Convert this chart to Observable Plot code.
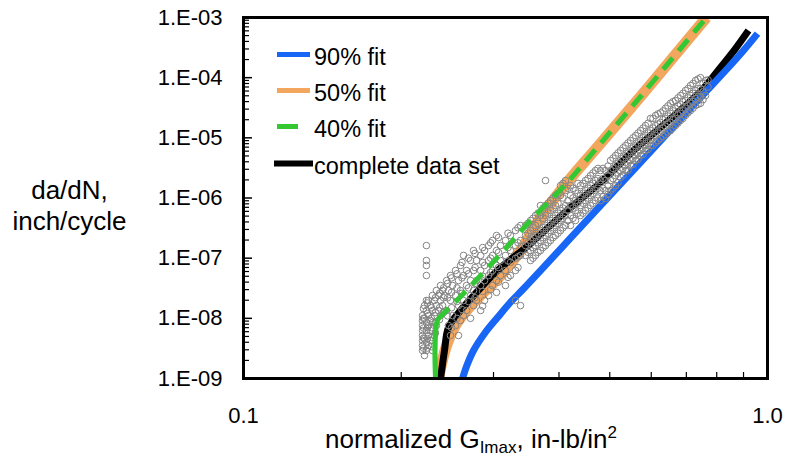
<!DOCTYPE html>
<html><head><meta charset="utf-8">
<script src="https://cdn.jsdelivr.net/npm/d3@7"></script>
<script src="https://cdn.jsdelivr.net/npm/@observablehq/plot@0.6"></script>
<style>
html,body{margin:0;padding:0;background:#fff;}
</style></head>
<body><div id="chart"></div>
<script>
// ---- axis ticks ----
const yMajor = [1e-9, 1e-8, 1e-7, 1e-6, 1e-5, 1e-4, 1e-3];
const yTickLabels = ["1.E-09", "1.E-08", "1.E-07", "1.E-06", "1.E-05", "1.E-04", "1.E-03"];
const xMajor = [0.1, 1];
const xTickLabels = ["0.1", "1.0"];
const xMinor = [0.2, 0.3, 0.4, 0.5, 0.6, 0.7, 0.8, 0.9];
const yMinor = yMajor.slice(0, -1).flatMap(d => [2, 3, 4, 5, 6, 7, 8, 9].map(k => k * d));

// ---- fit curves (normalized G, da/dN) ----
const fit90G    = [0.2618, 0.2665, 0.2748, 0.2884, 0.3053, 0.3232, 0.3423, 0.3688, 0.4160, 0.4800, 0.5615, 0.6465, 0.7450, 0.8387, 0.8999, 0.9570];
const fit90Rate = [1.0e-9, 1.6e-9, 2.92e-9, 5.6e-9, 1.03e-8, 1.85e-8, 3.1e-8, 6.2e-8, 1.94e-7, 7.45e-7, 3.27e-6, 1.23e-5, 4.68e-5, 1.42e-4, 2.83e-4, 5.4e-4];

const fit50G    = [0.2355, 0.2441, 0.2550, 0.2772, 0.3094, 0.3378, 0.3688, 0.4116, 0.4800, 0.5724, 0.6823, 0.7648];
const fit50Rate = [1.0e-9, 3.54e-9, 8.2e-9, 1.98e-8, 5.15e-8, 1.34e-7, 4.74e-7, 1.68e-6, 8.05e-6, 4.86e-5, 3.05e-4, 1.0e-3];

const fit40G    = [0.2325, 0.2345, 0.2408, 0.2630, 0.3053, 0.3530, 0.4116, 0.4800, 0.5724, 0.6823, 0.7648];
const fit40Rate = [1.0e-9, 9.2e-9, 1.20e-8, 2.59e-8, 1.03e-7, 4.23e-7, 1.68e-6, 8.05e-6, 4.86e-5, 3.05e-4, 1.0e-3];

const fitAllG    = [0.2377, 0.2419, 0.2461, 0.2595, 0.2772, 0.3053, 0.3530, 0.4080, 0.4800, 0.5550, 0.6444, 0.7450, 0.8135, 0.8688, 0.9198];
const fitAllRate = [1.0e-9, 2.92e-9, 7.04e-9, 1.35e-8, 2.59e-8, 6.24e-8, 1.75e-7, 5.52e-7, 1.81e-6, 6.15e-6, 1.87e-5, 5.89e-5, 1.48e-4, 3.05e-4, 6.08e-4];

// ---- measured data (normalized G, da/dN) ----
const testPoints = [
 [0.2234,1.62e-7],[0.2234,9.15e-8],[0.2234,7.55e-8],[0.2234,5.15e-8],[0.2234,1.98e-8],
 [0.2196,1.11e-8],[0.2196,9.2e-9],[0.2196,7.6e-9],[0.2196,6.28e-9],[0.2196,5.18e-9],[0.2196,4.28e-9],[0.2196,3.54e-9],[0.2196,2.92e-9],
 [0.2215,1.63e-8],[0.2215,1.0e-8],[0.2215,4.6e-9],[0.2215,2.41e-9],
 [0.2234,1.35e-8],[0.2234,8.5e-9],[0.2234,6.28e-9],[0.2234,4.0e-9],[0.2234,2.92e-9],
 [0.2254,1.98e-8],[0.2254,1.11e-8],[0.2254,7.6e-9],[0.2254,5.18e-9],[0.2254,3.54e-9],
 [0.2273,1.63e-8],[0.2273,9.2e-9],[0.2273,6.28e-9],[0.2273,4.28e-9],
 [0.2294,2.4e-8],[0.2294,1.35e-8],[0.2294,8.5e-9],[0.2294,2.92e-9],
 [0.2314,1.98e-8],[0.2314,1.11e-8],[0.2314,5.18e-9],
 [0.2334,2.9e-8],[0.2334,1.63e-8],[0.2334,7.6e-9],
 [0.2355,2.4e-8],[0.2355,1.35e-8],
 [0.2377,3.51e-8],[0.2377,1.98e-8],[0.2377,1.11e-8],
 [0.2398,2.9e-8],[0.2398,1.63e-8],
 [0.2419,2.4e-8],[0.2441,4.25e-8],[0.2441,1.35e-8],[0.2461,2.9e-8],[0.2461,7.6e-9],
 [0.2483,5.15e-8],[0.2483,1.98e-8],[0.2483,5.18e-9],[0.2506,3.51e-8],[0.2506,1.11e-8],
 [0.2539,6.24e-8],[0.2539,2.4e-8],[0.2539,7.6e-9],[0.2572,4.25e-8],[0.2572,1.63e-8],[0.2572,5.18e-9],
 [0.2595,7.55e-8],[0.2595,2.9e-8],[0.2595,9.2e-9],
 [0.2630,1.11e-7],[0.2630,5.15e-8],[0.2630,1.98e-8],[0.2630,1.11e-8],
 [0.2665,6.24e-8],[0.2665,3.51e-8],[0.2665,1.35e-8],
 [0.2712,9.15e-8],[0.2712,4.25e-8],[0.2712,2.4e-8],[0.2712,1.0e-8],
 [0.2748,1.34e-7],[0.2748,6.24e-8],[0.2748,2.9e-8],[0.2748,1.63e-8],
 [0.2784,9.15e-8],[0.2784,4.25e-8],[0.2784,1.98e-8],
 [0.2835,1.11e-7],[0.2835,6.24e-8],[0.2835,3.51e-8],[0.2835,1.35e-8],
 [0.2884,1.34e-7],[0.2884,7.55e-8],[0.2884,4.25e-8],[0.2884,1.98e-8],
 [0.2936,1.62e-7],[0.2936,9.15e-8],[0.2936,5.15e-8],[0.2936,2.4e-8],
 [0.2987,1.97e-7],[0.2987,1.11e-7],[0.2987,6.24e-8],[0.2987,3.51e-8],
 [0.3040,2.38e-7],[0.3040,1.34e-7],[0.3040,7.55e-8],[0.3040,4.25e-8],[0.3040,2.7e-8],
 [0.3094,1.62e-7],[0.3094,9.15e-8],[0.3094,5.15e-8],
 [0.3162,1.97e-7],[0.3162,1.11e-7],[0.3162,6.24e-8],[0.3162,3.51e-8],
 [0.3232,2.38e-7],[0.3232,1.34e-7],[0.3232,8.5e-8],[0.3232,5.15e-8],
 [0.3304,2.88e-7],[0.3304,1.62e-7],[0.3304,9.9e-8],[0.3304,6.24e-8],[0.3304,1.98e-8],
 [0.3378,3.49e-7],[0.3378,1.97e-7],[0.3378,1.11e-7],[0.3378,1.63e-8],
 [0.3453,3.49e-7],[0.3453,2.38e-7],[0.3453,1.62e-7],[0.3453,1.11e-7],
 [0.3530,4.23e-7],[0.3530,2.88e-7],[0.3530,1.97e-7],[0.3530,1.34e-7],[0.3530,9.15e-8],
 [0.3608,5.12e-7],[0.3608,3.49e-7],[0.3608,2.38e-7],[0.3608,1.62e-7],[0.3608,1.11e-7],
 [0.3688,7.5e-7],[0.3688,5.12e-7],[0.3688,2.88e-7],[0.3688,1.97e-7],[0.3688,1.34e-7],
 [0.3770,1.95e-6],[0.3770,7.5e-7],[0.3770,5.12e-7],[0.3770,3.49e-7],[0.3770,2.38e-7],[0.3770,1.62e-7],
 [0.3854,9.08e-7],[0.3854,6.2e-7],[0.3854,4.23e-7],[0.3854,2.88e-7],[0.3854,1.97e-7],
 [0.3939,1.1e-6],[0.3939,7.5e-7],[0.3939,5.12e-7],[0.3939,3.49e-7],[0.3939,2.38e-7],
 [0.4027,1.61e-6],[0.4027,1.1e-6],[0.4027,6.2e-7],[0.4027,4.23e-7],[0.4027,2.88e-7],
 [0.4116,1.95e-6],[0.4116,1.33e-6],[0.4116,7.5e-7],[0.4116,5.12e-7],[0.4116,3.49e-7],
 [0.4207,1.61e-6],[0.4207,1.1e-6],[0.4207,7.5e-7],[0.4207,5.12e-7],[0.4207,3.49e-7],
 [0.4301,1.33e-6],[0.4301,9.08e-7],[0.4301,6.2e-7],[0.4301,4.23e-7],
 [0.4396,1.61e-6],[0.4396,1.1e-6],[0.4396,7.5e-7],[0.4396,5.12e-7],
 [0.4494,1.95e-6],[0.4494,1.33e-6],[0.4494,9.08e-7],[0.4494,6.2e-7],
 [0.4595,2.36e-6],[0.4595,1.61e-6],[0.4595,1.1e-6],[0.4595,7.5e-7],
 [0.4695,2.86e-6],[0.4695,1.95e-6],[0.4695,1.33e-6],[0.4695,9.08e-7],
 [0.4800,2.86e-6],[0.4800,1.95e-6],[0.4800,1.33e-6],[0.4800,9.08e-7],
 [0.4906,2.86e-6],[0.4906,1.95e-6],[0.4906,1.33e-6],[0.4906,9.8e-7],
 [0.5017,4.2e-6],[0.5017,2.86e-6],[0.5017,1.95e-6],[0.5017,1.33e-6],
 [0.5128,5.08e-6],[0.5128,3.47e-6],[0.5128,2.36e-6],[0.5128,1.61e-6],
 [0.5243,6.15e-6],[0.5243,4.2e-6],[0.5243,2.86e-6],[0.5243,2.2e-6],
 [0.5358,7.45e-6],[0.5358,5.08e-6],[0.5358,3.47e-6],[0.5358,2.86e-6],
 [0.5477,9.02e-6],[0.5477,6.15e-6],[0.5477,4.2e-6],[0.5477,3.47e-6],
 [0.5600,1.09e-5],[0.5600,7.45e-6],[0.5600,5.08e-6],[0.5600,4.2e-6],
 [0.5724,1.32e-5],[0.5724,9.02e-6],[0.5724,6.15e-6],[0.5724,5.08e-6],
 [0.5850,1.6e-5],[0.5850,1.09e-5],[0.5850,7.45e-6],[0.5850,6.15e-6],
 [0.5980,2.1e-5],[0.5980,1.32e-5],[0.5980,9.02e-6],[0.5980,7.45e-6],
 [0.6114,2.35e-5],[0.6114,1.6e-5],[0.6114,1.09e-5],[0.6114,8.3e-6],
 [0.6249,2.6e-5],[0.6249,1.8e-5],[0.6249,1.32e-5],[0.6249,9.8e-6],
 [0.6387,3.1e-5],[0.6387,2.1e-5],[0.6387,1.55e-5],[0.6387,1.13e-5],
 [0.6530,3.75e-5],[0.6530,2.55e-5],[0.6530,1.8e-5],[0.6530,1.32e-5],
 [0.6674,4.17e-5],[0.6674,3.1e-5],[0.6674,2.1e-5],[0.6674,1.6e-5],
 [0.6823,5.05e-5],[0.6823,3.6e-5],[0.6823,2.55e-5],[0.6823,1.94e-5],
 [0.6974,6.11e-5],[0.6974,4.17e-5],[0.6974,3.1e-5],[0.6974,2.35e-5],
 [0.7130,7.41e-5],[0.7130,5.05e-5],[0.7130,3.75e-5],[0.7130,2.84e-5],
 [0.7288,8.97e-5],[0.7288,6.11e-5],[0.7288,4.5e-5],[0.7288,3.44e-5],
 [0.7450,1.0e-4],[0.7450,6.6e-5],[0.7450,4.85e-5],[0.7450,3.75e-5],
 [0.7616,8.97e-5],[0.7616,5.05e-5],
 // second pass, read between the first-pass rows
 [0.2205,1.0e-8],[0.2205,6.9e-9],[0.2205,4.7e-9],[0.2205,3.2e-9],[0.2205,1.45e-8],
 [0.2244,1.2e-8],[0.2244,7.0e-9],[0.2244,4.6e-9],[0.2244,3.2e-9],[0.2244,1.8e-8],
 [0.2283,1.5e-8],[0.2283,1.0e-8],[0.2283,7.0e-9],[0.2283,4.8e-9],[0.2283,3.4e-9],
 [0.2324,2.2e-8],[0.2324,1.25e-8],[0.2324,8.5e-9],[0.2324,5.7e-9],
 [0.2366,2.6e-8],[0.2366,1.5e-8],[0.2366,9.5e-9],
 [0.2409,3.2e-8],[0.2409,2.2e-8],[0.2409,1.25e-8],
 [0.2452,3.8e-8],[0.2452,2.2e-8],[0.2452,1.1e-8],
 [0.2495,4.7e-8],[0.2495,2.7e-8],[0.2495,1.5e-8],[0.2495,7.0e-9],
 [0.2555,5.5e-8],[0.2555,3.2e-8],[0.2555,1.9e-8],[0.2555,1.0e-8],
 [0.2612,8.5e-8],[0.2612,4.7e-8],[0.2612,2.6e-8],[0.2612,1.4e-8],
 [0.2688,1.0e-7],[0.2688,5.5e-8],[0.2688,3.2e-8],[0.2688,1.9e-8],
 [0.2766,1.2e-7],[0.2766,7.0e-8],[0.2766,3.8e-8],[0.2766,2.2e-8],
 [0.2860,1.5e-7],[0.2860,8.5e-8],[0.2860,5.0e-8],[0.2860,2.8e-8],[0.2860,1.6e-8],
 [0.2962,1.8e-7],[0.2962,1.0e-7],[0.2962,5.8e-8],[0.2962,3.0e-8],
 [0.3067,2.2e-7],[0.3067,1.25e-7],[0.3067,7.0e-8],[0.3067,4.0e-8],
 [0.3197,2.6e-7],[0.3197,1.5e-7],[0.3197,9.0e-8],[0.3197,4.8e-8],
 [0.3341,3.2e-7],[0.3341,1.8e-7],[0.3341,1.05e-7],[0.3341,7.0e-8],
 [0.3491,3.8e-7],[0.3491,2.6e-7],[0.3491,1.8e-7],[0.3491,1.25e-7],
 [0.3569,4.6e-7],[0.3569,3.2e-7],[0.3569,2.2e-7],[0.3569,1.5e-7],[0.3569,1.0e-7],
 [0.3648,5.6e-7],[0.3648,3.8e-7],[0.3648,2.6e-7],[0.3648,1.8e-7],[0.3648,1.25e-7],
 [0.3729,6.8e-7],[0.3729,4.6e-7],[0.3729,3.2e-7],[0.3729,2.2e-7],[0.3729,1.5e-7],
 [0.3812,8.2e-7],[0.3812,5.6e-7],[0.3812,3.8e-7],[0.3812,2.6e-7],[0.3812,1.8e-7],
 [0.3897,1.0e-6],[0.3897,6.8e-7],[0.3897,4.6e-7],[0.3897,3.2e-7],[0.3897,2.2e-7],
 [0.3983,1.2e-6],[0.3983,8.2e-7],[0.3983,5.6e-7],[0.3983,3.8e-7],[0.3983,2.6e-7],
 [0.4071,1.75e-6],[0.4071,1.0e-6],[0.4071,6.8e-7],[0.4071,4.6e-7],[0.4071,3.2e-7],
 [0.4161,1.45e-6],[0.4161,9.0e-7],[0.4161,6.2e-7],[0.4161,4.2e-7],
 [0.4254,1.45e-6],[0.4254,1.0e-6],[0.4254,6.8e-7],[0.4254,4.6e-7],
 [0.4348,1.75e-6],[0.4348,1.2e-6],[0.4348,8.2e-7],[0.4348,5.6e-7],
 [0.4445,1.75e-6],[0.4445,1.2e-6],[0.4445,8.2e-7],[0.4445,5.6e-7],
 [0.4544,2.1e-6],[0.4544,1.45e-6],[0.4544,1.0e-6],[0.4544,6.8e-7],
 [0.4645,2.6e-6],[0.4645,1.75e-6],[0.4645,1.2e-6],[0.4645,8.2e-7],
 [0.4747,3.1e-6],[0.4747,2.1e-6],[0.4747,1.45e-6],[0.4747,1.0e-6],
 [0.4853,3.1e-6],[0.4853,2.1e-6],[0.4853,1.45e-6],[0.4853,1.05e-6],
 [0.4961,3.4e-6],[0.4961,2.4e-6],[0.4961,1.6e-6],[0.4961,1.15e-6],
 [0.5072,4.6e-6],[0.5072,3.1e-6],[0.5072,2.1e-6],[0.5072,1.45e-6],
 [0.5185,5.6e-6],[0.5185,3.8e-6],[0.5185,2.6e-6],[0.5185,1.8e-6],
 [0.5300,6.8e-6],[0.5300,4.6e-6],[0.5300,3.1e-6],[0.5300,2.4e-6],
 [0.5417,8.2e-6],[0.5417,5.6e-6],[0.5417,3.8e-6],[0.5417,2.9e-6],
 [0.5538,1.0e-5],[0.5538,6.8e-6],[0.5538,4.6e-6],[0.5538,3.6e-6],
 [0.5662,1.2e-5],[0.5662,8.2e-6],[0.5662,5.6e-6],[0.5662,4.4e-6],
 [0.5787,1.45e-5],[0.5787,1.0e-5],[0.5787,6.8e-6],[0.5787,5.3e-6],
 [0.5917,1.75e-5],[0.5917,1.2e-5],[0.5917,8.2e-6],[0.5917,6.4e-6],
 [0.6046,2.1e-5],[0.6046,1.45e-5],[0.6046,1.0e-5],[0.6046,7.5e-6],
 [0.6181,2.5e-5],[0.6181,1.7e-5],[0.6181,1.2e-5],[0.6181,9.0e-6],
 [0.6318,2.8e-5],[0.6318,2.0e-5],[0.6318,1.45e-5],[0.6318,1.05e-5],
 [0.6457,3.4e-5],[0.6457,2.3e-5],[0.6457,1.7e-5],[0.6457,1.25e-5],
 [0.6602,4.0e-5],[0.6602,2.8e-5],[0.6602,2.0e-5],[0.6602,1.45e-5],
 [0.6748,4.6e-5],[0.6748,3.4e-5],[0.6748,2.4e-5],[0.6748,1.75e-5],
 [0.6898,5.5e-5],[0.6898,4.0e-5],[0.6898,2.8e-5],[0.6898,2.1e-5],
 [0.7051,6.6e-5],[0.7051,4.6e-5],[0.7051,3.4e-5],[0.7051,2.6e-5],
 [0.7208,8.0e-5],[0.7208,5.5e-5],[0.7208,4.0e-5],[0.7208,3.1e-5],
 [0.7369,9.5e-5],[0.7369,6.6e-5],[0.7369,4.8e-5],[0.7369,3.6e-5],
 [0.7532,8.0e-5],[0.7532,5.8e-5],[0.7532,4.3e-5],
 [0.7700,9.2e-5],[0.7700,7.0e-5]
];

// ---- legend ----
const legendNames  = ["90% fit", "50% fit", "40% fit", "complete data set"];
const legendColors = ["#1766f5", "#f2a65e", "#33c733", "#000000"];

const FONT = "'Liberation Sans', Arial, Helvetica, sans-serif";
const toRows = (xs, ys) => xs.map((x, i) => ({x, y: ys[i]}));
// long first dash (the near-vertical threshold part looks solid), then regular dashes
const greenDash = "75,9," + Array(20).fill("15,9").join(",");

const curve = "catmull-rom";
const chart = Plot.plot({
  width: 785,
  height: 460,
  marginLeft: 243,
  marginRight: 18,
  marginTop: 17,
  marginBottom: 82,
  style: {fontFamily: FONT, background: "white", color: "black"},
  x: {type: "log", domain: [0.1, 1]},
  y: {type: "log", domain: [1e-9, 1e-3]},
  marks: [
    Plot.line(toRows(fit50G, fit50Rate), {x: "x", y: "y", stroke: legendColors[1], strokeWidth: 11, curve, strokeLinecap: "butt", clip: true}),
    Plot.line(toRows(fitAllG, fitAllRate), {x: "x", y: "y", stroke: legendColors[3], strokeWidth: 7, curve, strokeLinecap: "butt", clip: true}),
    Plot.line(toRows(fit90G, fit90Rate), {x: "x", y: "y", stroke: legendColors[0], strokeWidth: 7, curve, strokeLinecap: "butt", clip: true}),
    Plot.dot(testPoints, {x: d => d[0], y: d => d[1], r: 3.3, stroke: "#858585", strokeWidth: 1, fill: "none", clip: true}),
    Plot.line(toRows(fit40G, fit40Rate), {x: "x", y: "y", stroke: legendColors[2], strokeWidth: 5, strokeDasharray: greenDash, curve, strokeLinecap: "butt", clip: true}),
    Plot.axisY({ticks: yMajor, tickSize: 0, tickPadding: 21, fontSize: 22, tickFormat: d => yTickLabels[yMajor.indexOf(d)], label: null}),
    Plot.axisY({ticks: yMajor, tickSize: 9, dx: 9, strokeWidth: 1.5, tickFormat: () => "", label: null}),
    Plot.axisY({ticks: yMinor, tickSize: 6, dx: 6, strokeWidth: 1.2, tickFormat: () => "", label: null}),
    Plot.axisX({ticks: xMajor, tickSize: 0, tickPadding: 29, fontSize: 22, tickFormat: d => xTickLabels[xMajor.indexOf(d)], label: null}),
    Plot.axisX({ticks: xMinor, tickSize: 6, dy: -6, strokeWidth: 1.2, tickFormat: () => "", label: null}),
    Plot.frame({stroke: "black", strokeWidth: 3})
  ]
});
document.getElementById("chart").appendChild(chart);

const svg = d3.select(chart);
// legend inside plot
const leg = svg.append("g").attr("font-family", FONT).attr("font-size", 23.5).attr("fill", "black").attr("text-anchor", "start");
const legRowsY = [54.5, 90.5, 126.5, 163.5];
const legX1 = [277, 277, 277, 274];
const legX2 = [310, 310, 298, 313];
const legW = [5, 5, 5, 6];
legendNames.forEach((name, i) => {
  leg.append("line").attr("x1", legX1[i]).attr("x2", legX2[i]).attr("y1", legRowsY[i]).attr("y2", legRowsY[i])
    .attr("stroke", legendColors[i]).attr("stroke-width", legW[i]);
  leg.append("text").attr("x", 314).attr("y", legRowsY[i] + 2.5).attr("dy", "0.35em").attr("text-anchor", "start").text(name);
});
// y-axis title
const yt = svg.append("text").attr("font-family", FONT).attr("font-size", 26).attr("text-anchor", "middle").attr("fill", "black");
yt.append("tspan").attr("x", 69.5).attr("y", 199).text("da/dN,");
yt.append("tspan").attr("x", 69.5).attr("y", 230).text("inch/cycle");
// x-axis title
const xt = svg.append("text").attr("font-family", FONT).attr("font-size", 26).attr("fill", "black")
  .attr("text-anchor", "start").attr("x", 325).attr("y", 448);
xt.append("tspan").text("normalized G");
xt.append("tspan").attr("font-size", 17).attr("dy", 5).text("Imax");
xt.append("tspan").attr("dy", -5).text(", in-lb/in");
xt.append("tspan").attr("font-size", 17).attr("dy", -10).text("2");
</script>
</body></html>
